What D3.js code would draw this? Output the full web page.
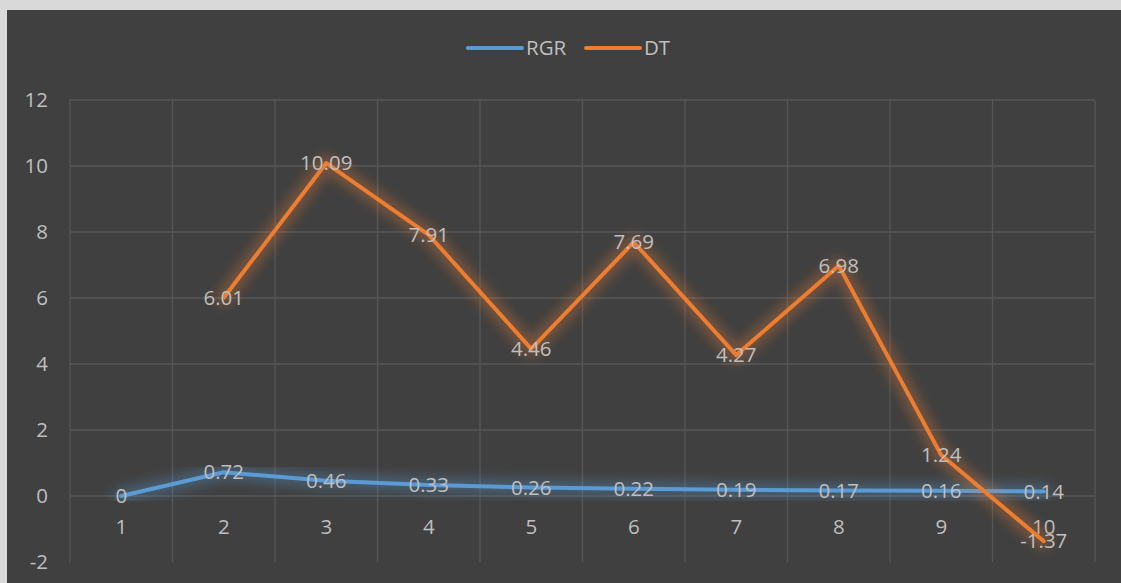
<!DOCTYPE html>
<html>
<head>
<meta charset="utf-8">
<script src="https://cdn.jsdelivr.net/npm/d3@7"></script>
<style>
  html, body { margin: 0; padding: 0; background: #d9d9d9; }
  svg { display: block; }
  text { font-family: "Open Sans", "Noto Sans", sans-serif; fill: #bfbfbf; }
</style>
</head>
<body>
<svg id="chart" width="1121" height="583"></svg>
<script>
// Categories and series
const categories = [1, 2, 3, 4, 5, 6, 7, 8, 9, 10];
const rgr = [0, 0.72, 0.46, 0.33, 0.26, 0.22, 0.19, 0.17, 0.16, 0.14];
const dt = [null, 6.01, 10.09, 7.91, 4.46, 7.69, 4.27, 6.98, 1.24, -1.37];
const yTicks = [-2, 0, 2, 4, 6, 8, 10, 12];
const seriesNames = ["RGR", "DT"];
const seriesColors = ["#5B9BD5", "#ED7D31"];

const W = 1121, H = 583;
const FS = 20.5;
const svg = d3.select("#chart");

// chart background panel
svg.append("rect").attr("x", 7).attr("y", 10).attr("width", W - 7).attr("height", H - 10)
  .attr("fill", "#404040");

const plot = { left: 70, right: 1095, top: 100, bottom: 562 };

const x = d3.scaleBand().domain(categories).range([plot.left, plot.right]).paddingInner(0).paddingOuter(0);
const y = d3.scaleLinear().domain([-2, 12]).range([plot.bottom, plot.top]);

// soft glow behind the series lines
const defs = svg.append("defs");
const f = defs.append("filter").attr("id", "glow").attr("x", "-20%").attr("y", "-20%").attr("width", "140%").attr("height", "140%");
f.append("feGaussianBlur").attr("stdDeviation", 6);

// gridlines (no line drawn on the lowest tick)
const grid = svg.append("g").attr("stroke", "#575757").attr("stroke-width", 1.3);
grid.selectAll("line.h").data(yTicks.slice(1)).join("line")
  .attr("x1", plot.left).attr("x2", plot.right)
  .attr("y1", d => y(d)).attr("y2", d => y(d));
const bounds = categories.map(c => x(c)).concat([x(categories[categories.length - 1]) + x.bandwidth()]);
grid.selectAll("line.v").data(bounds).join("line")
  .attr("x1", d => d).attr("x2", d => d)
  .attr("y1", plot.top).attr("y2", plot.bottom);

// y axis labels
const yAxis = d3.axisLeft(y).tickValues(yTicks).tickSize(0).tickPadding(0).tickFormat(d => String(d));
const yg = svg.append("g").attr("transform", `translate(${plot.left - 22},0)`).call(yAxis);
yg.select(".domain").remove();
yg.selectAll("text").attr("font-size", FS).attr("fill", "#bfbfbf")
  .attr("font-family", "'Open Sans', sans-serif");

// x axis labels, placed under the zero line
const xAxis = d3.axisBottom(x).tickSize(0).tickPadding(0);
const xg = svg.append("g").attr("transform", `translate(0,${y(0) + 31})`).call(xAxis);
xg.select(".domain").remove();
xg.selectAll("text").attr("font-size", FS).attr("fill", "#bfbfbf")
  .attr("font-family", "'Open Sans', sans-serif").attr("dy", "0.35em");

const cx = c => x(c) + x.bandwidth() / 2;
const series = [rgr, dt];

series.forEach((vals, i) => {
  const pts = categories.map((c, j) => ({ c, v: vals[j] })).filter(d => d.v !== null);
  const line = d3.line().x(d => cx(d.c)).y(d => y(d.v));
  svg.append("path").datum(pts).attr("d", line)
    .attr("fill", "none").attr("stroke", seriesColors[i]).attr("stroke-width", 16)
    .attr("stroke-opacity", 0.32).attr("stroke-linejoin", "round").attr("stroke-linecap", "round")
    .attr("filter", "url(#glow)");
  svg.append("path").datum(pts).attr("d", line)
    .attr("fill", "none").attr("stroke", seriesColors[i]).attr("stroke-width", 4)
    .attr("stroke-linejoin", "round").attr("stroke-linecap", "round");
});

// data labels centred on points
series.forEach((vals, i) => {
  const pts = categories.map((c, j) => ({ c, v: vals[j] })).filter(d => d.v !== null);
  svg.append("g").selectAll("text").data(pts).join("text")
    .attr("x", d => cx(d.c)).attr("y", d => y(d.v)).attr("dy", "0.35em")
    .attr("text-anchor", "middle").attr("font-size", FS).attr("fill", "#bfbfbf")
    .text(d => String(d.v));
});

// legend
const legend = svg.append("g");
const legendItems = [{ name: seriesNames[0], x: 468 }, { name: seriesNames[1], x: 586 }];
legendItems.forEach((it, i) => {
  legend.append("line").attr("x1", it.x).attr("x2", it.x + 54).attr("y1", 48).attr("y2", 48)
    .attr("stroke", seriesColors[i]).attr("stroke-width", 4).attr("stroke-linecap", "round");
  legend.append("text").attr("x", it.x + 58).attr("y", 48).attr("dy", "0.35em")
    .attr("font-size", FS).attr("fill", "#bfbfbf").text(it.name);
});
</script>
</body>
</html>
